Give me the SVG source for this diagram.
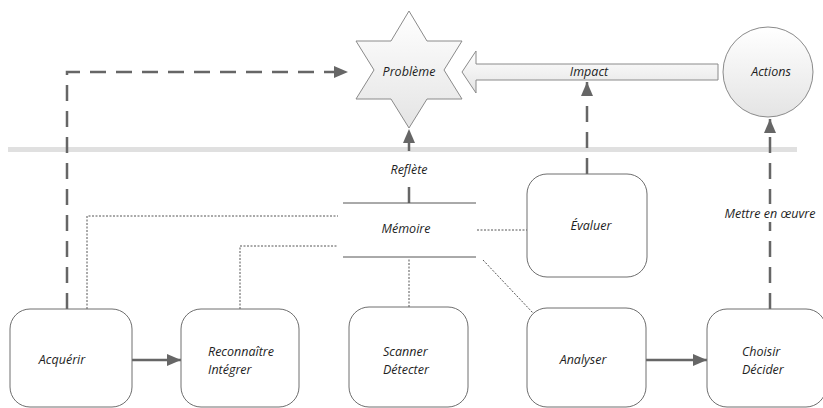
<svg xmlns="http://www.w3.org/2000/svg" width="823" height="408" viewBox="0 0 823 408">
<defs>
<linearGradient id="g" x1="0" y1="0" x2="0" y2="1">
<stop offset="0" stop-color="#ffffff"/>
<stop offset="1" stop-color="#e4e4e4"/>
</linearGradient>
<marker id="ah" markerUnits="userSpaceOnUse" markerWidth="14" markerHeight="12" viewBox="0 0 14 12" refX="14" refY="6" orient="auto">
<path d="M0,0 L14,6 L0,12 Z" fill="#666"/>
</marker>
<style>
.node{fill:#fff;stroke:#6e6e6e;stroke-width:1}
.shape{fill:url(#g);stroke:#8a8a8a;stroke-width:1}
.t{font-family:"Open Sans","Liberation Sans",sans-serif;font-style:italic;font-size:12.5px;fill:#1e1e1e}
.c{text-anchor:middle}
.dash{fill:none;stroke:#666;stroke-width:2.5;stroke-dasharray:16 10}
.solid{fill:none;stroke:#666;stroke-width:2.5}
.dot{fill:none;stroke:#555;stroke-width:1;stroke-dasharray:2 1.5}
.mem{stroke:#555;stroke-width:1}
</style>
</defs>
<rect width="823" height="408" fill="#fff"/>
<line x1="8" y1="149.5" x2="797" y2="149.5" stroke="#e0e0e0" stroke-width="5"/>

<g id="connectors">
<path class="dot" d="M87,309 V216 H338"/>
<path class="dot" d="M240,309 V246 H337"/>
<path class="dot" d="M409,307 V258"/>
<path class="dot" d="M477,230 H527"/>
<path class="dot" d="M483,260 L533,313"/>
<path class="dash" d="M67,309 V72 H348" marker-end="url(#ah)"/>
<path class="dash" d="M409,203 V129" marker-end="url(#ah)"/>
<path class="dash" d="M587,174 V82" marker-end="url(#ah)"/>
<path class="dash" d="M770,309 V119" marker-end="url(#ah)"/>
<path class="solid" d="M132,360 H181" marker-end="url(#ah)"/>
<path class="solid" d="M646,360 H707" marker-end="url(#ah)"/>
<rect x="387" y="161" width="44" height="18" fill="#fff"/>
<rect x="720" y="204" width="100" height="18" fill="#fff"/>
<text class="t c" x="409" y="174">Reflète</text>
<text class="t c" x="770" y="218">Mettre en œuvre</text>
</g>

<g id="probleme">
<polygon class="shape" points="409,11 427,41 462,41 444,70 462,99 427,99 409,128 391,99 356,99 374,70 356,41 391,41"/>
<text class="t c" x="409" y="76">Problème</text>
</g>
<g id="impact">
<path class="shape" d="M462,72 L476,51 L476,64 L718,64 L718,80 L476,80 L476,93 Z"/>
<text class="t c" x="589" y="76">Impact</text>
</g>
<g id="actions">
<circle class="shape" cx="768" cy="72" r="45"/>
<text class="t c" x="771" y="76">Actions</text>
</g>
<g id="memoire">
<line class="mem" x1="343" y1="203" x2="476" y2="203"/>
<line class="mem" x1="343" y1="257" x2="476" y2="257"/>
<text class="t c" x="406" y="233">Mémoire</text>
</g>
<g id="evaluer">
<rect class="node" x="527" y="174" width="120" height="103" rx="20"/>
<text class="t c" x="591" y="230">Évaluer</text>
</g>
<g id="acquerir">
<rect class="node" x="10" y="309" width="122" height="98" rx="20"/>
<text class="t c" x="62" y="364">Acquérir</text>
</g>
<g id="reconnaitre">
<rect class="node" x="181" y="309" width="118" height="98" rx="20"/>
<text class="t" x="208" y="356">Reconnaître</text>
<text class="t" x="208" y="374">Intégrer</text>
</g>
<g id="scanner">
<rect class="node" x="349" y="307" width="119" height="100" rx="20"/>
<text class="t" x="383" y="356">Scanner</text>
<text class="t" x="383" y="374">Détecter</text>
</g>
<g id="analyser">
<rect class="node" x="527" y="308" width="119" height="99" rx="20"/>
<text class="t c" x="583" y="364">Analyser</text>
</g>
<g id="choisir">
<rect class="node" x="707" y="309" width="119" height="98" rx="20"/>
<text class="t" x="742" y="356">Choisir</text>
<text class="t" x="742" y="374">Décider</text>
</g>
</svg>
